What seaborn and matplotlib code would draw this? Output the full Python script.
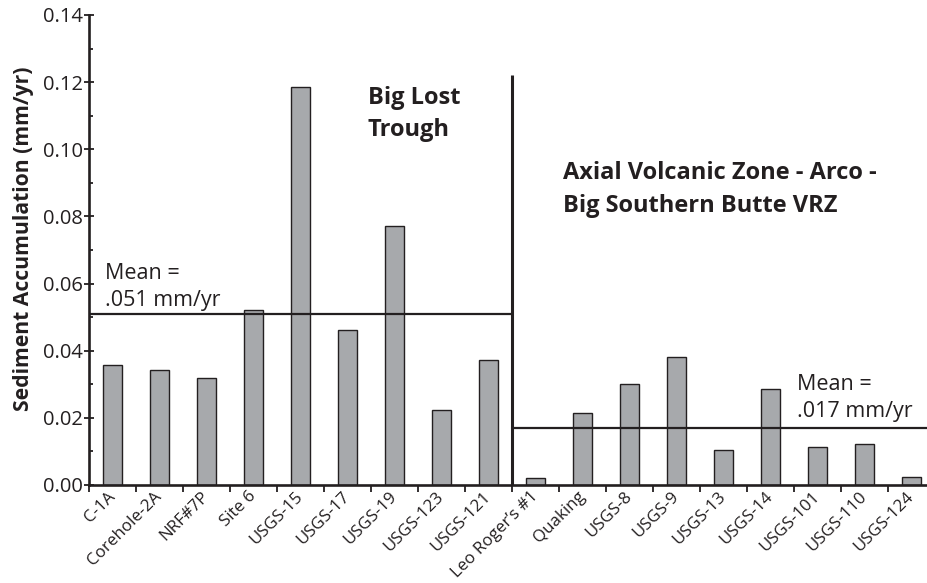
import matplotlib
matplotlib.use("Agg")
import matplotlib.pyplot as plt
from matplotlib.ticker import MultipleLocator, FormatStrFormatter
import seaborn as sns
import pandas as pd

# Sediment accumulation rates by borehole, two volcanic provinces
trough_sites = ["C-1A", "Corehole-2A", "NRF#7P", "Site 6", "USGS-15",
                "USGS-17", "USGS-19", "USGS-123", "USGS-121"]
trough_rates = [0.0357, 0.0343, 0.0320, 0.0521, 0.1187,
                0.0462, 0.0771, 0.0223, 0.0372]

axial_sites = ["Leo Roger\u2019s #1", "Quaking", "USGS-8", "USGS-9", "USGS-13",
               "USGS-14", "USGS-101", "USGS-110", "USGS-124"]
axial_rates = [0.0020, 0.0215, 0.0301, 0.0380, 0.0104,
               0.0286, 0.0114, 0.0122, 0.0025]

trough_mean = 0.051
axial_mean = 0.017
divider_top = 0.122

df = pd.DataFrame({
    "site": trough_sites + axial_sites,
    "rate": trough_rates + axial_rates,
})

ink = "#231f20"
bar_fill = "#a7a9ac"

sns.set_theme(style="white")
plt.rcParams["font.family"] = ["Open Sans", "DejaVu Sans"]
plt.rcParams["text.color"] = ink
plt.rcParams["axes.labelcolor"] = ink
plt.rcParams["xtick.color"] = ink
plt.rcParams["ytick.color"] = ink

W, H = 928, 583
fig = plt.figure(figsize=(W / 100, H / 100), dpi=100)
ax = fig.add_axes([89 / W, 1 - 485 / H, 1 - 89 / W, 470 / H])

sns.barplot(data=df, x="site", y="rate", color=bar_fill, saturation=1,
            width=0.425, edgecolor=ink, linewidth=1.0, ax=ax)

n_total = len(df)
slot_px = 47.06
ax.set_xlim(-0.5, n_total - 0.5 - 7 / slot_px)
ax.set_ylim(0, 0.14)

# group divider and mean lines
split = len(trough_sites) - 0.5
ax.plot([split, split], [0, divider_top], color=ink, lw=2.2, solid_capstyle="butt")
ax.plot([-0.5, split], [trough_mean, trough_mean], color=ink, lw=1.6)
ax.plot([split, n_total], [axial_mean, axial_mean], color=ink, lw=1.6)

# spines
for side in ("top", "right"):
    ax.spines[side].set_visible(False)
for side in ("left", "bottom"):
    ax.spines[side].set_color(ink)
    ax.spines[side].set_linewidth(1.9)

# y ticks
ax.yaxis.set_major_locator(MultipleLocator(0.02))
ax.yaxis.set_minor_locator(MultipleLocator(0.01))
ax.yaxis.set_major_formatter(FormatStrFormatter("%.2f"))
ax.tick_params(axis="y", which="major", direction="inout", length=7, width=1.3,
               labelsize=14.5, pad=1, left=True)
ax.tick_params(axis="y", which="minor", direction="in", length=3, width=1.3, left=True)

# x ticks on category boundaries, labels centred under bars
ax.set_xticks([i - 0.5 for i in range(n_total)], minor=False)
ax.set_xticklabels([])
ax.set_xticks(range(n_total), minor=True)
ax.set_xticklabels(df["site"], minor=True, rotation=45, ha="right", va="center",
                   rotation_mode="anchor", fontsize=12.2)
ax.tick_params(axis="x", which="major", direction="out", length=5, width=1.3,
               bottom=True)
ax.tick_params(axis="x", which="minor", length=0, pad=6.5, bottom=True)

ax.set_xlabel("")
ax.set_ylabel("Sediment Accumulation (mm/yr)", fontsize=15.2, fontweight="bold")
ax.yaxis.set_label_coords(-0.066, 0.523)

ax.text(5.43, 0.1190, "Big Lost\nTrough", fontsize=17, fontweight="bold",
        va="top", ha="left", linespacing=1.5)
ax.text(9.59, 0.0965, "Axial Volcanic Zone - Arco -\nBig Southern Butte VRZ",
        fontsize=17, fontweight="bold", va="top", ha="left", linespacing=1.5)
ax.text(-0.16, 0.0662, "Mean =\n.051 mm/yr", fontsize=15.5,
        va="top", ha="left", linespacing=1.42)
ax.text(14.57, 0.0332, "Mean =\n.017 mm/yr", fontsize=15.5,
        va="top", ha="left", linespacing=1.42)

fig.savefig("out.png", dpi=100)
